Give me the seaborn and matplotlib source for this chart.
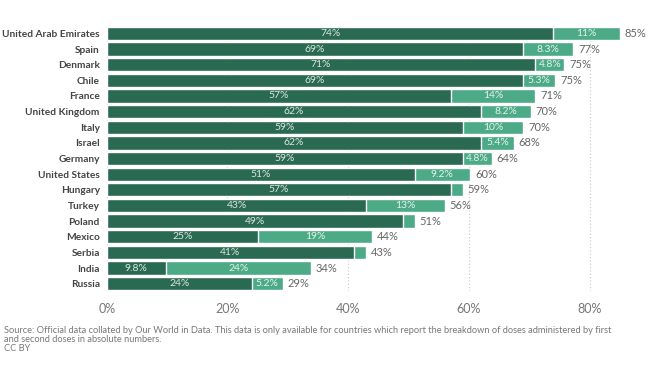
import matplotlib
matplotlib.use("Agg")
import matplotlib.pyplot as plt
import seaborn as sns
import pandas as pd
import numpy as np

countries = ["United Arab Emirates", "Spain", "Denmark", "Chile", "France",
             "United Kingdom", "Italy", "Israel", "Germany", "United States",
             "Hungary", "Turkey", "Poland", "Mexico", "Serbia", "India", "Russia"]
fully = [74, 69, 71, 69, 57, 62, 59, 62, 59, 51, 57, 43, 49, 25, 41, 9.8, 24]
partly = [11, 8.3, 4.8, 5.3, 14, 8.2, 10, 5.4, 4.8, 9.2, 2, 13, 2, 19, 2, 24, 5.2]
total_labels = ["85%", "77%", "75%", "75%", "71%", "70%", "70%", "68%", "64%",
                "60%", "59%", "56%", "51%", "44%", "43%", "34%", "29%"]

dark = "#2b6a52"
light = "#4caa87"

df = pd.DataFrame({"country": countries, "fully": fully, "partly": partly})
df["total"] = df["fully"] + df["partly"]

sns.set_style("white")
plt.rcParams["font.family"] = ["Lato", "DejaVu Sans"]

fig = plt.figure(figsize=(6.55, 3.82), dpi=100)
ax = fig.add_axes([0.163, 0.237, 0.811, 0.696])

sns.barplot(data=df, x="total", y="country", color=light, orient="h",
            width=0.85, saturation=1, ax=ax, zorder=2)
sns.barplot(data=df, x="fully", y="country", color=dark, orient="h",
            width=0.85, saturation=1, ax=ax, zorder=3)

def fmt(v):
    return f"{v:g}%"

for i, row in df.iterrows():
    ax.text(row["fully"] / 2, i, fmt(row["fully"]), ha="center", va="center",
            color="#d8e8e0", fontsize=7.5, zorder=4)
    if row["partly"] >= 4:
        ax.text(row["fully"] + row["partly"] / 2, i, fmt(row["partly"]),
                ha="center", va="center", color="#e4f3ec", fontsize=7.5, zorder=4)
    ax.text(row["total"] + 0.8, i, total_labels[i], ha="left", va="center",
            color="#666666", fontsize=8, zorder=4)

ax.set_xlim(0, 88)
ax.set_ylim(len(countries) - 0.5, -0.5)
ax.set_xticks([0, 20, 40, 60, 80])
ax.set_xticklabels(["0%", "20%", "40%", "60%", "80%"])
ax.xaxis.grid(True, linestyle=(0, (1, 2)), color="#c8c8c8", linewidth=0.8, zorder=0)
ax.set_axisbelow(True)
ax.set_xlabel("")
ax.set_ylabel("")
for s in ax.spines.values():
    s.set_visible(False)
ax.tick_params(axis="x", colors="#777777", labelsize=9, length=0, pad=8)
ax.tick_params(axis="y", length=0, pad=5)
for lab in ax.get_yticklabels():
    lab.set_fontsize(7.3)
    lab.set_fontweight("bold")
    lab.set_color("#444444")

fig.text(0.006, 0.147,
         "Source: Official data collated by Our World in Data. This data is only available for countries which report the breakdown of doses administered by first\n"
         "and second doses in absolute numbers.\nCC BY",
         fontsize=6.7, color="#777777", va="top", ha="left", linespacing=1.0)

fig.savefig("out.png", dpi=100)
